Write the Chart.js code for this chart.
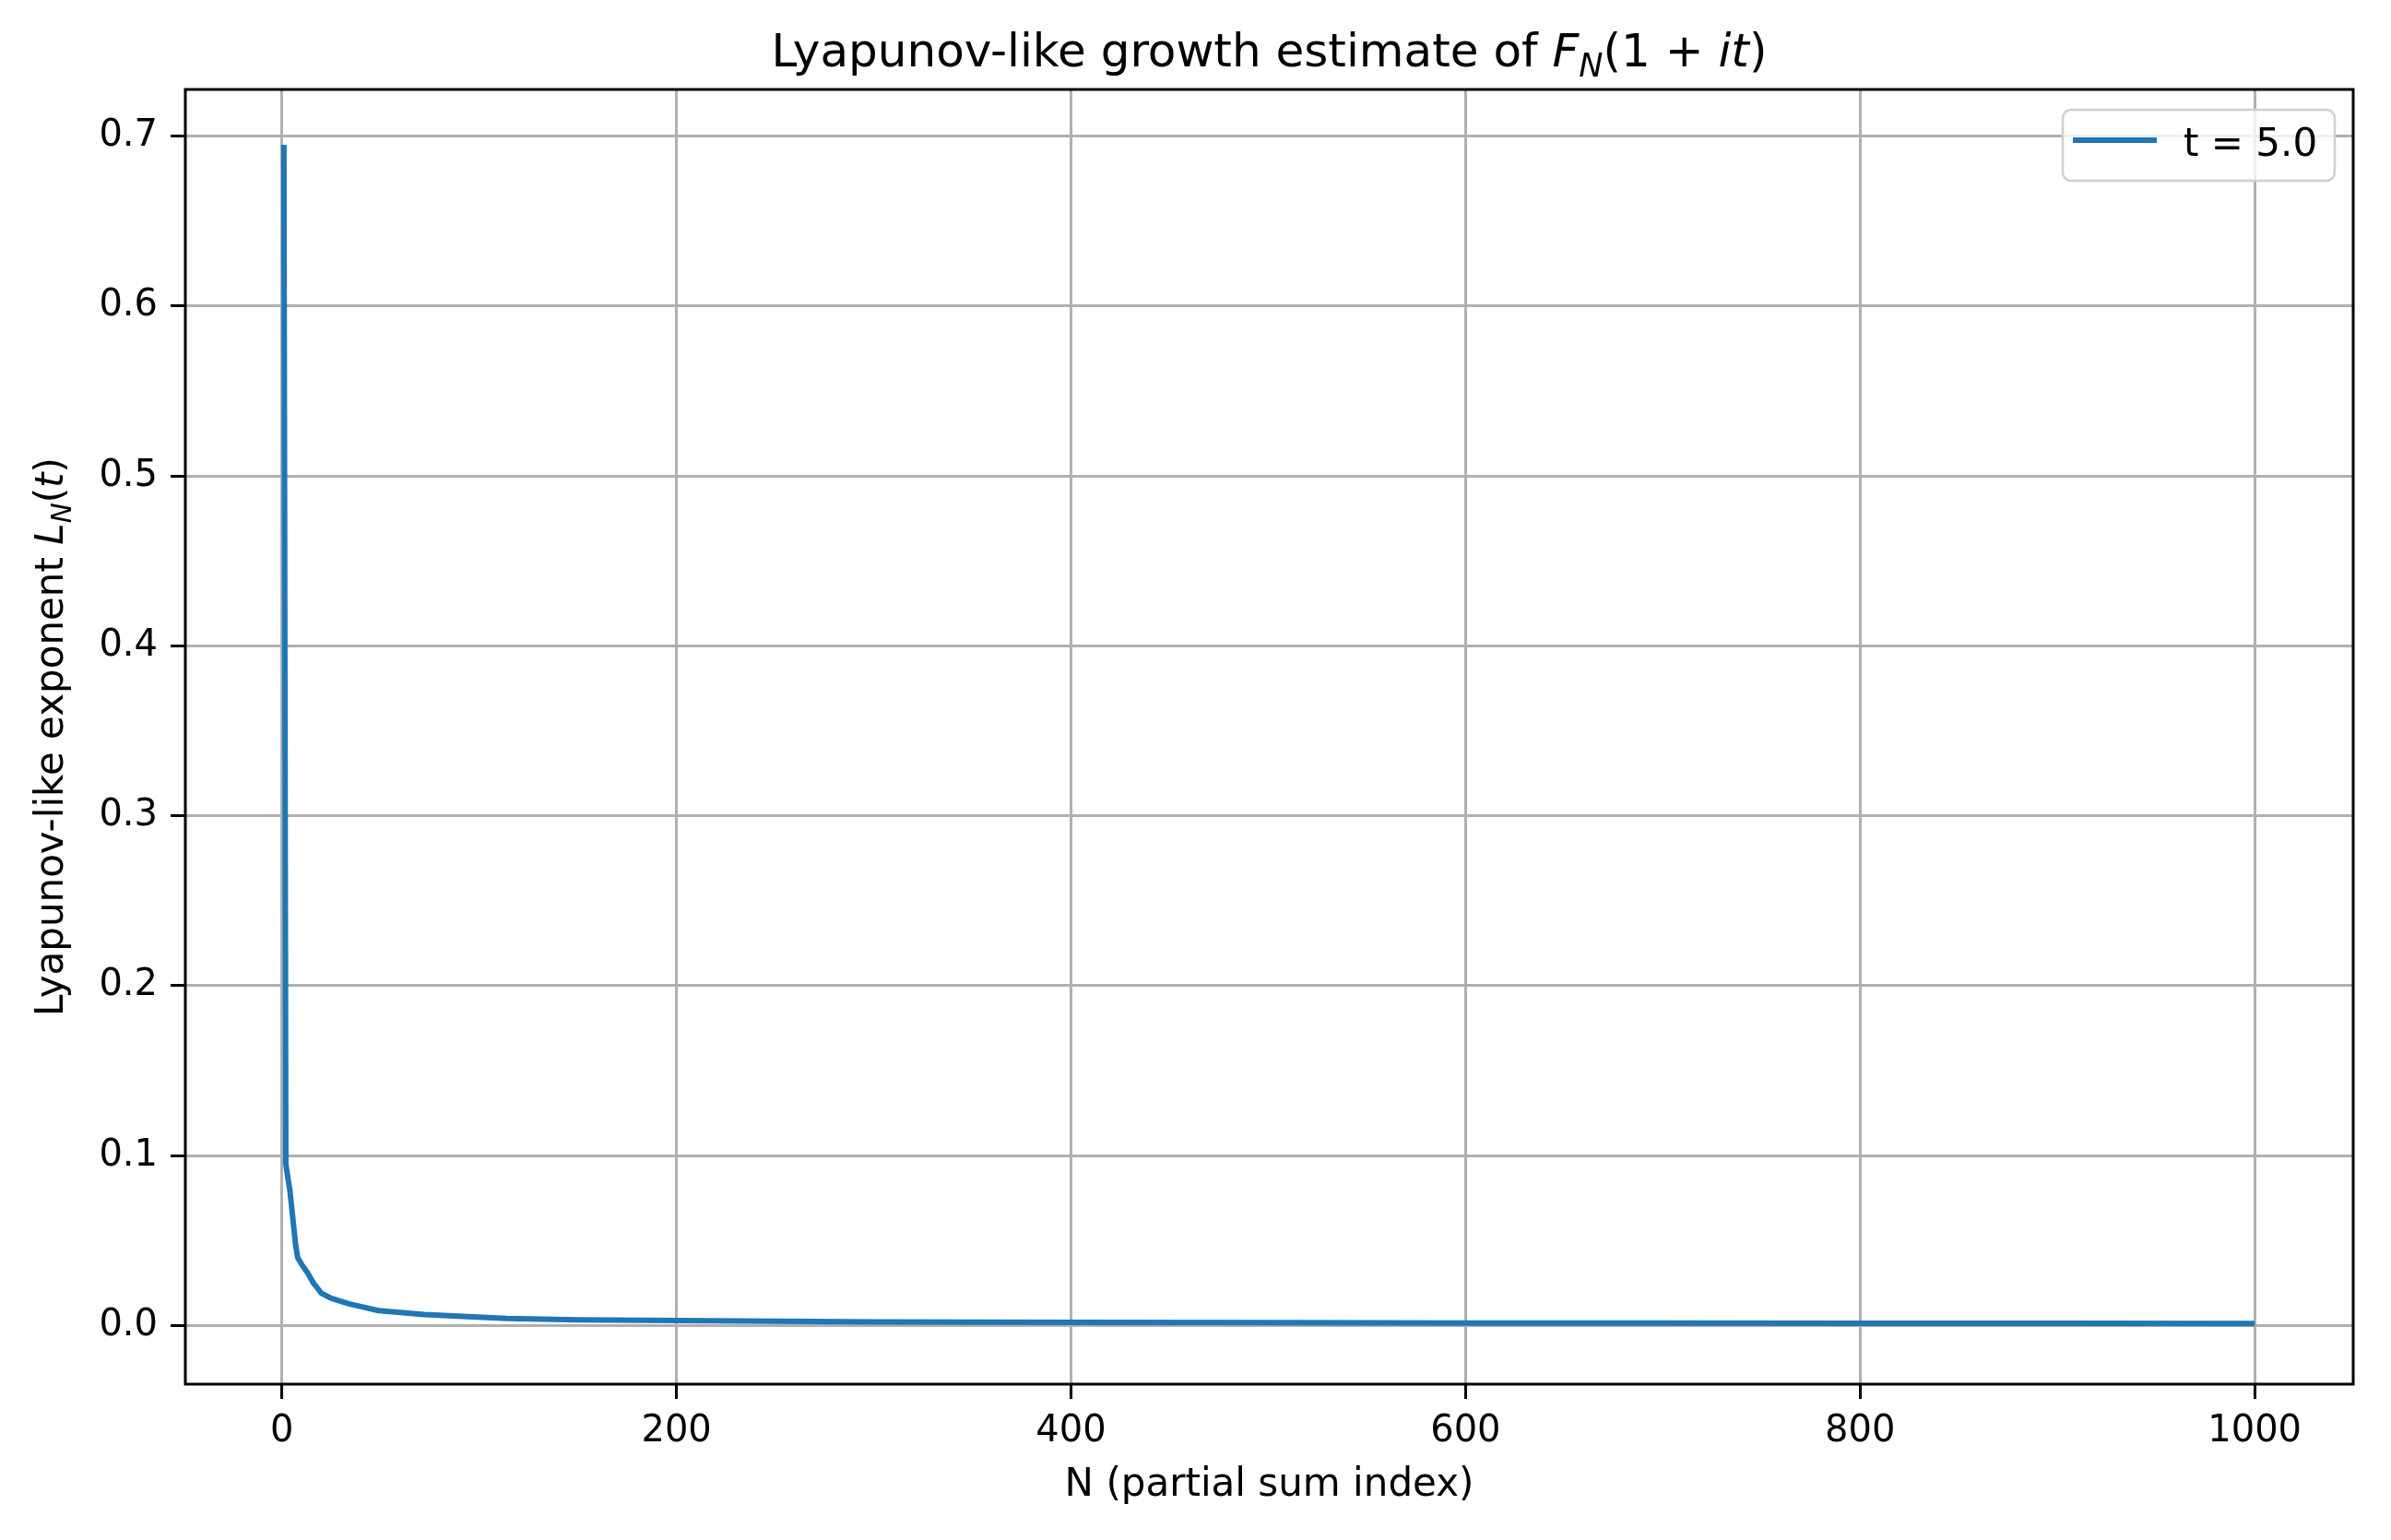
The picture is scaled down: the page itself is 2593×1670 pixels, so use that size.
<!DOCTYPE html>
<html>
<head>
<meta charset="utf-8">
<script src="https://cdn.jsdelivr.net/npm/chart.js@4.4.1/dist/chart.umd.min.js"></script>
<style>
  html, body { margin: 0; padding: 0; background: #fff; }
  canvas { display: block; }
</style>
</head>
<body>
<canvas id="grafica" width="2593" height="1670"></canvas>
<script>
// valores
const nValues = [1, 2, 3, 4, 5, 6, 7, 8, 10, 13, 16, 20, 25, 34, 49, 72, 114, 150, 200, 300, 400, 500, 600, 700, 800, 900, 1000];
const lValues = [0.695, 0.095, 0.087, 0.080, 0.069, 0.058, 0.047, 0.040, 0.036, 0.031, 0.025, 0.019, 0.016, 0.0128, 0.0088, 0.0065, 0.0042, 0.0034, 0.0029, 0.0022, 0.0019, 0.0017, 0.0015, 0.0014, 0.0013, 0.0013, 0.0012];
const xTicks = [0, 200, 400, 600, 800, 1000];
const yTicks = [0.0, 0.1, 0.2, 0.3, 0.4, 0.5, 0.6, 0.7];
const serieLabel = 't = 5.0';

const FAM = '"DejaVu Sans", "Liberation Sans", sans-serif';
const FS_TICK = 40;
const FS_LABEL = 42;
const FS_TITLE = 50;

// texto con partes en cursiva / subindice (como mathtext)
function drawRich(ctx, parts, size, x, y, align) {
  const fontOf = p => (p.it ? 'italic ' : '') + (p.sub ? size * 0.7 : size) + 'px ' + FAM;
  let total = 0;
  parts.forEach(p => { ctx.font = fontOf(p); total += ctx.measureText(p.t).width; });
  let cx = align === 'center' ? x - total / 2 : x;
  ctx.textAlign = 'left';
  ctx.textBaseline = 'alphabetic';
  parts.forEach(p => {
    ctx.font = fontOf(p);
    ctx.fillText(p.t, cx, y + (p.sub ? size * 0.22 : 0));
    cx += ctx.measureText(p.t).width;
  });
}

const extras = {
  id: 'extras',
  afterDraw(chart) {
    const ctx = chart.ctx;
    const a = chart.chartArea;
    ctx.save();
    // marco
    ctx.strokeStyle = '#000';
    ctx.lineWidth = 3;
    ctx.strokeRect(a.left, a.top, a.right - a.left, a.bottom - a.top);

    ctx.fillStyle = '#000';
    const cxArea = (a.left + a.right) / 2;
    drawRich(ctx, [
      { t: 'Lyapunov-like growth estimate of ' },
      { t: 'F', it: true },
      { t: 'N', it: true, sub: true },
      { t: '(1 + ' },
      { t: 'it', it: true },
      { t: ')' }
    ], FS_TITLE, cxArea, 72, 'center');

    drawRich(ctx, [{ t: 'N (partial sum index)' }], FS_LABEL, cxArea, 1622, 'center');

    ctx.save();
    ctx.translate(68, (a.top + a.bottom) / 2);
    ctx.rotate(-Math.PI / 2);
    drawRich(ctx, [
      { t: 'Lyapunov-like exponent ' },
      { t: 'L', it: true },
      { t: 'N', it: true, sub: true },
      { t: '(' },
      { t: 't', it: true },
      { t: ')' }
    ], FS_LABEL, 0, 0, 'center');
    ctx.restore();

    // leyenda
    const bx = 2237, by = 119, bw = 295, bh = 77, r = 9;
    ctx.beginPath();
    ctx.roundRect(bx, by, bw, bh, r);
    ctx.fillStyle = 'rgba(255,255,255,0.8)';
    ctx.fill();
    ctx.strokeStyle = '#d0d0d0';
    ctx.lineWidth = 2.5;
    ctx.stroke();
    ctx.beginPath();
    ctx.moveTo(2248, 152);
    ctx.lineTo(2339, 152);
    ctx.strokeStyle = '#1f77b4';
    ctx.lineWidth = 6;
    ctx.stroke();
    ctx.fillStyle = '#000';
    ctx.font = FS_LABEL + 'px ' + FAM;
    ctx.textAlign = 'left';
    ctx.textBaseline = 'alphabetic';
    ctx.fillText(serieLabel, 2368, 169);
    ctx.restore();
  }
};

const ctx = document.getElementById('grafica').getContext('2d');
const myChart = new Chart(ctx, {
  type: 'line',
  data: {
    datasets: [{
      label: serieLabel,
      data: nValues.map((n, i) => ({ x: n, y: lValues[i] })),
      borderColor: '#1f77b4',
      borderWidth: 6,
      pointRadius: 0,
      tension: 0,
      fill: false,
      borderJoinStyle: 'round',
      borderCapStyle: 'butt'
    }]
  },
  options: {
    responsive: false,
    animation: false,
    devicePixelRatio: 1,
    layout: { padding: { left: 0, top: 97, right: 41, bottom: 0 } },
    plugins: {
      legend: { display: false },
      title: { display: false },
      tooltip: { enabled: false }
    },
    scales: {
      x: {
        type: 'linear',
        min: -48.95,
        max: 1049.95,
        afterBuildTicks: s => { s.ticks = xTicks.map(v => ({ value: v })); },
        afterFit: s => { s.height = 169; },
        ticks: {
          font: { family: FAM, size: FS_TICK },
          color: '#000',
          padding: 12,
          maxRotation: 0,
          autoSkip: false,
          callback: v => String(v)
        },
        grid: { color: '#b0b0b0', lineWidth: 3, tickColor: '#000', tickLength: 16, tickWidth: 3 },
        border: { display: false }
      },
      y: {
        min: -0.0345,
        max: 0.7275,
        afterBuildTicks: s => { s.ticks = yTicks.map(v => ({ value: v })); },
        afterFit: s => { s.width = 201; },
        ticks: {
          font: { family: FAM, size: FS_TICK },
          color: '#000',
          padding: 14,
          autoSkip: false,
          callback: v => Number(v).toFixed(1)
        },
        grid: { color: '#b0b0b0', lineWidth: 3, tickColor: '#000', tickLength: 16, tickWidth: 3 },
        border: { display: false }
      }
    }
  },
  plugins: [extras]
});
</script>
</body>
</html>
